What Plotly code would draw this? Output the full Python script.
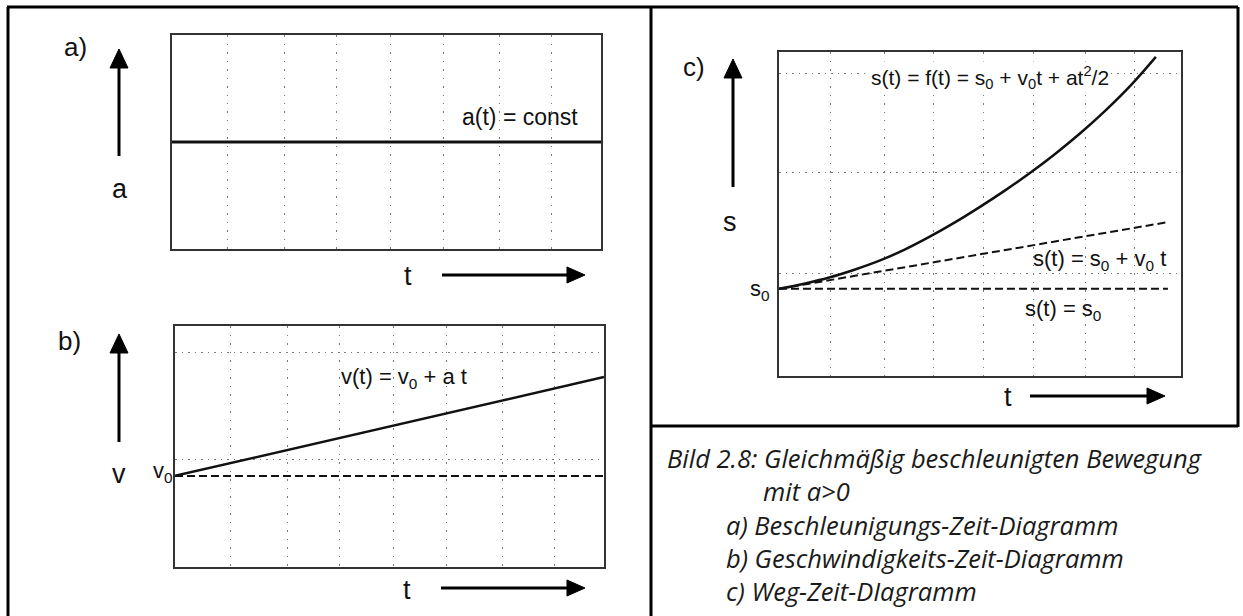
import plotly.graph_objects as go

W, H = 1243, 616

# ---------------- data ----------------
# grid positions along t (0..8)
t_grid = [1.03, 2.09, 3.07, 4.07, 5.07, 6.1, 7.07]

# a) acceleration-time
a_t = [0, 8]
a_val = [1.0, 1.0]
a_ygrid = [1.0, 2.0]

# b) velocity-time
b_t = [0, 8]
b_v = [3.78, 7.88]
b_v0 = [3.78, 3.78]
b_ygrid = [4.48, 8.88]

# c) distance-time
c_t = [0, 0.5, 1, 1.5, 2, 2.5, 3, 3.5, 4, 4.5, 5, 5.5, 6, 6.5, 7, 7.5]
c_s = [0.269, 0.285, 0.304, 0.328, 0.356, 0.390, 0.430, 0.474, 0.522,
       0.573, 0.627, 0.686, 0.750, 0.820, 0.897, 0.985]
c_lin_t = [0, 7.74]
c_lin_s = [0.269, 0.475]
c_const_t = [0, 7.74]
c_const_s = [0.269, 0.269]
c_ygrid = [0.315, 0.627, 0.935]

caption_title = "Bild 2.8: Gleichmäßig beschleunigten Bewegung"
caption_sub = "mit a>0"
caption_items = [
    "a) Beschleunigungs-Zeit-Diagramm",
    "b) Geschwindigkeits-Zeit-Diagramm",
    "c) Weg-Zeit-DIagramm",
]


# ---------------- helpers ----------------
def px(x):
    return x / W


def py(y):
    return 1 - y / H


LABEL_FONT = "Liberation Sans, Arial, sans-serif"
INK = "#111111"

fig = go.Figure()

# traces
fig.add_trace(go.Scatter(x=a_t, y=a_val, mode="lines", line=dict(color=INK, width=3),
                         xaxis="x", yaxis="y", hoverinfo="skip"))
fig.add_trace(go.Scatter(x=b_t, y=b_v0, mode="lines", line=dict(color=INK, width=2, dash="8px,4px"),
                         xaxis="x2", yaxis="y2", hoverinfo="skip"))
fig.add_trace(go.Scatter(x=b_t, y=b_v, mode="lines", line=dict(color=INK, width=2.5),
                         xaxis="x2", yaxis="y2", hoverinfo="skip"))
fig.add_trace(go.Scatter(x=c_const_t, y=c_const_s, mode="lines", line=dict(color=INK, width=2, dash="8px,4px"),
                         xaxis="x3", yaxis="y3", hoverinfo="skip"))
fig.add_trace(go.Scatter(x=c_lin_t, y=c_lin_s, mode="lines", line=dict(color=INK, width=2, dash="8px,4px"),
                         xaxis="x3", yaxis="y3", hoverinfo="skip"))
fig.add_trace(go.Scatter(x=c_t, y=c_s, mode="lines", line=dict(color=INK, width=2.5, shape="spline", smoothing=1),
                         xaxis="x3", yaxis="y3", hoverinfo="skip"))


def xax(domain, anchor):
    return dict(domain=domain, anchor=anchor, range=[0, 8], showline=True, mirror=True,
                linecolor="#333", linewidth=2, showticklabels=False, ticks="", zeroline=False,
                showgrid=True, gridcolor="#7a7a7a", gridwidth=1.3, griddash="1.5px,7px",
                tickmode="array", tickvals=t_grid, fixedrange=True)


def yax(domain, anchor, rng, vals):
    return dict(domain=domain, anchor=anchor, range=rng, showline=True, mirror=True,
                linecolor="#333", linewidth=2, showticklabels=False, ticks="", zeroline=False,
                showgrid=True, gridcolor="#7a7a7a", gridwidth=1.3, griddash="1.5px,5px",
                tickmode="array", tickvals=vals, fixedrange=True)


layout = dict(
    width=W, height=H, margin=dict(l=0, r=0, t=0, b=0, pad=0),
    paper_bgcolor="white", plot_bgcolor="white", showlegend=False,
    xaxis=xax([px(172), px(601)], "y"),
    yaxis=yax([py(249), py(35)], "x", [0, 2], a_ygrid),
    xaxis2=xax([px(175), px(604)], "y2"),
    yaxis2=yax([py(567), py(326)], "x2", [0, 10], b_ygrid),
    xaxis3=xax([px(779), px(1181)], "y3"),
    yaxis3=yax([py(376), py(52)], "x3", [0, 1], c_ygrid),
)
fig.update_layout(**layout)

shapes = []


def line(x0, y0, x1, y1, w=3, color="black"):
    shapes.append(dict(type="line", xref="paper", yref="paper", x0=px(x0), y0=py(y0),
                       x1=px(x1), y1=py(y1), line=dict(color=color, width=w)))


def tri(points):
    path = "M " + " L ".join(f"{px(x):.5f},{py(y):.5f}" for x, y in points) + " Z"
    shapes.append(dict(type="path", xref="paper", yref="paper", path=path,
                       fillcolor="black", line=dict(color="black", width=1)))


def up_arrow(x, ytip, ybottom):
    line(x, ytip + 17, x, ybottom, w=3)
    tri([(x, ytip), (x - 9, ytip + 19), (x + 9, ytip + 19)])


def right_arrow(x0, xtip, y):
    line(x0, y, xtip - 16, y, w=3)
    tri([(xtip, y), (xtip - 18, y - 8), (xtip - 18, y + 8)])


# frame
line(8, 7, 8, 616, w=3)
line(7, 7, 1238, 7, w=3)
line(651, 7, 651, 616, w=3)
line(1238, 7, 1238, 427, w=3)
line(651, 426, 1238, 426, w=3)

# arrows
up_arrow(119, 49, 156)
right_arrow(442, 585, 275)
up_arrow(119, 334, 442)
right_arrow(441, 585, 588)
up_arrow(733, 59, 187)
right_arrow(1030, 1165, 396)

fig.update_layout(shapes=shapes)

ann = []


def text(x, y, s, size, xanchor="center", family=LABEL_FONT, color="#111", bg=None, pad=1,
         align="center"):
    d = dict(xref="paper", yref="paper", x=px(x), y=py(y), text=s, showarrow=False,
             xanchor=xanchor, yanchor="middle", align=align, borderpad=pad,
             font=dict(family=family, size=size, color=color))
    if bg:
        d["bgcolor"] = bg
    ann.append(d)


# panel a
text(75, 47, "a)", 26)
text(120, 189, "a", 27)
text(408, 276, "t", 27)
text(520, 117, "a(t) = const", 23)
# panel b
text(69, 341, "b)", 26)
text(119, 474, "v", 27)
text(163, 472, "v<sub>0</sub>", 22)
text(407, 590, "t", 27)
text(404, 378, "v(t) = v<sub>0</sub> + a t", 22)
# panel c
text(694, 67, "c)", 26)
text(730, 222, "s", 27)
text(760, 290, "s<sub>0</sub>", 22)
text(1008, 397, "t", 27)
text(990, 77, "s(t) = f(t) = s<sub>0</sub> + v<sub>0</sub>t + at<sup>2</sup>/2", 21, bg="white")
text(1099, 260, "s(t) = s<sub>0</sub> + v<sub>0</sub> t", 22)
text(1063, 310, "s(t) = s<sub>0</sub>", 22)

# caption
CAP_FONT = "Open Sans, Noto Sans, sans-serif"
CAP_SIZE = 25.5
text(666, 458, "<i>" + caption_title + "</i>", CAP_SIZE, xanchor="left", family=CAP_FONT,
     color="#1a1a1a", pad=0)
text(762, 491, "<i>" + caption_sub + "</i>", CAP_SIZE, xanchor="left", family=CAP_FONT,
     color="#1a1a1a", pad=0)
text(725, 558, "<br>".join("<i>" + s + "</i>" for s in caption_items), CAP_SIZE, xanchor="left",
     family=CAP_FONT, color="#1a1a1a", pad=0, align="left")

fig.update_layout(annotations=ann)

fig.write_html("out.html")
